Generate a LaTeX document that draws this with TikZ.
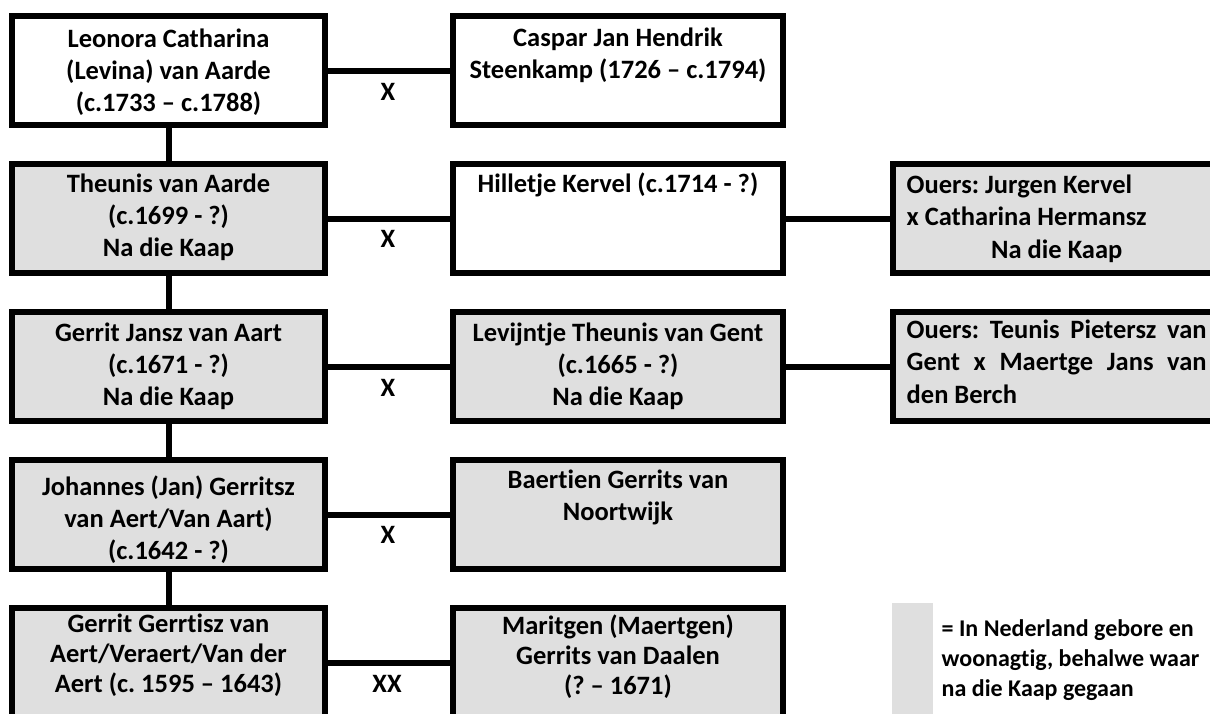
\documentclass[tikz,border=0pt]{standalone}
\usepackage{fontspec}
\setmainfont{Carlito}[Ligatures={NoCommon}]
\definecolor{boxgray}{RGB}{223,223,223}
\tikzset{
  person/.style={draw=black, line width=6pt, inner sep=0pt, minimum height=109pt},
  leftbox/.style={person, minimum width=313pt},
  midbox/.style={person, minimum width=330pt},
  parentbox/.style={person, minimum width=323pt},
  gr/.style={fill=boxgray},
  wh/.style={fill=white},
  link/.style={draw=black, line width=6pt},
  txt/.style={anchor=base, inner sep=0pt, font=\bfseries\fontsize{26.5}{32}\selectfont\frenchspacing},
  txttight/.style={anchor=base, inner sep=0pt, font=\bfseries\fontsize{26.5}{30}\selectfont\frenchspacing},
  txtw/.style={anchor=base west, inner sep=0pt, font=\bfseries\fontsize{26.5}{32.5}\selectfont\frenchspacing},
  legtxt/.style={anchor=base west, inner sep=0pt, font=\bfseries\fontsize{24}{30}\selectfont\frenchspacing},
  marr/.style={anchor=base, inner sep=0pt, font=\bfseries\fontsize{26.5}{28}\selectfont},
}
\begin{document}
\begin{tikzpicture}[x=1pt,y=-1pt]
\useasboundingbox (0,0) rectangle (1210,713);
\clip (0,0) rectangle (1210,713);

% boxes
\node[leftbox, wh] (l1) at (168.5,70.5) {};
\node[midbox, wh] (m1) at (618,70.5) {};
\node[leftbox, gr] (l2) at (168.5,218.5) {};
\node[midbox, wh] (m2) at (618,218.5) {};
\node[parentbox, gr] (p2) at (1054.5,218.5) {};
\node[leftbox, gr] (l3) at (168.5,366.5) {};
\node[midbox, gr] (m3) at (618,366.5) {};
\node[parentbox, gr] (p3) at (1054.5,366.5) {};
\node[leftbox, gr] (l4) at (168.5,514.5) {};
\node[midbox, gr] (m4) at (618,514.5) {};
\node[leftbox, gr] (l5) at (168.5,662.5) {};
\node[midbox, gr] (m5) at (618,662.5) {};

% connectors
\draw[link] (l1.east) -- (m1.west);
\draw[link] (l2.east) -- (m2.west);
\draw[link] (m2.east) -- (p2.west);
\draw[link] (l3.east) -- (m3.west);
\draw[link] (m3.east) -- (p3.west);
\draw[link] (l4.east) -- (m4.west);
\draw[link] (l5.east) -- (m5.west);
\draw[link] (l1.south) -- (l2.north);
\draw[link] (l2.south) -- (l3.north);
\draw[link] (l3.south) -- (l4.north);
\draw[link] (l4.south) -- (l5.north);

% marriage labels
\node[marr] (x1) at (388,100) {X};
\node[marr] (x2) at (388,247.5) {X};
\node[marr] (x3) at (388,396) {X};
\node[marr] (x4) at (388,543) {X};
\node[marr] (x5) at (387,692.5) {XX};

% texts
\node[txt] (t-l1) at (168.5,47) {\parbox[t]{305pt}{\centering Leonora Catharina\\(Levina) van Aarde\\(c.1733 – c.1788)}};
\node[txt] (t-m1) at (618,46) {\parbox[t]{320pt}{\centering Caspar Jan Hendrik\\Steenkamp (1726 – c.1794)}};
\node[txt] (t-l2) at (168.5,192.5) {\parbox[t]{305pt}{\centering Theunis van Aarde\\(c.1699 - ?)\\Na die Kaap}};
\node[txt] (t-m2) at (618,192) {\parbox[t]{320pt}{\centering Hilletje Kervel (c.1714 - ?)}};
\node[txtw] (t-p2) at (906.5,193) {\parbox[t]{300pt}{Ouers: Jurgen Kervel\\x Catharina Hermansz\\\makebox[\linewidth][c]{Na die Kaap}}};
\node[txt] (t-l3) at (168.5,341.5) {\parbox[t]{305pt}{\centering Gerrit Jansz van Aart\\(c.1671 - ?)\\Na die Kaap}};
\node[txt] (t-m3) at (618,341) {\parbox[t]{320pt}{\centering Levijntje Theunis van Gent\\(c.1665 - ?)\\Na die Kaap}};
\node[txtw] (t-p3) at (906.5,338) {\parbox[t]{300pt}{Ouers: Teunis Pietersz van\linebreak Gent x Maertge Jans van\linebreak den Berch}};
\node[txt] (t-l4) at (168.5,495) {\parbox[t]{305pt}{\centering Johannes (Jan) Gerritsz\\van Aert/Van Aart)\\(c.1642 - ?)}};
\node[txt] (t-m4) at (618,488) {\parbox[t]{320pt}{\centering Baertien Gerrits van\\Noortwijk}};
\node[txttight] (t-l5) at (168.5,632) {\parbox[t]{305pt}{\centering Gerrit Gerrtisz van\\Aert/Veraert/Van der\\Aert (c. 1595 – 1643)}};
\node[txttight] (t-m5) at (618,634) {\parbox[t]{320pt}{\centering Maritgen (Maertgen)\\Gerrits van Daalen\\(? – 1671)}};

% legend
\node[fill=boxgray, inner sep=0pt, minimum width=41pt, minimum height=117pt] (legend) at (912.5,661.5) {};
\node[legtxt] (legendtext) at (941.5,636) {\parbox[t]{300pt}{\raggedright = In Nederland gebore en\\woonagtig, behalwe waar\\na die Kaap gegaan}};
\end{tikzpicture}
\end{document}
